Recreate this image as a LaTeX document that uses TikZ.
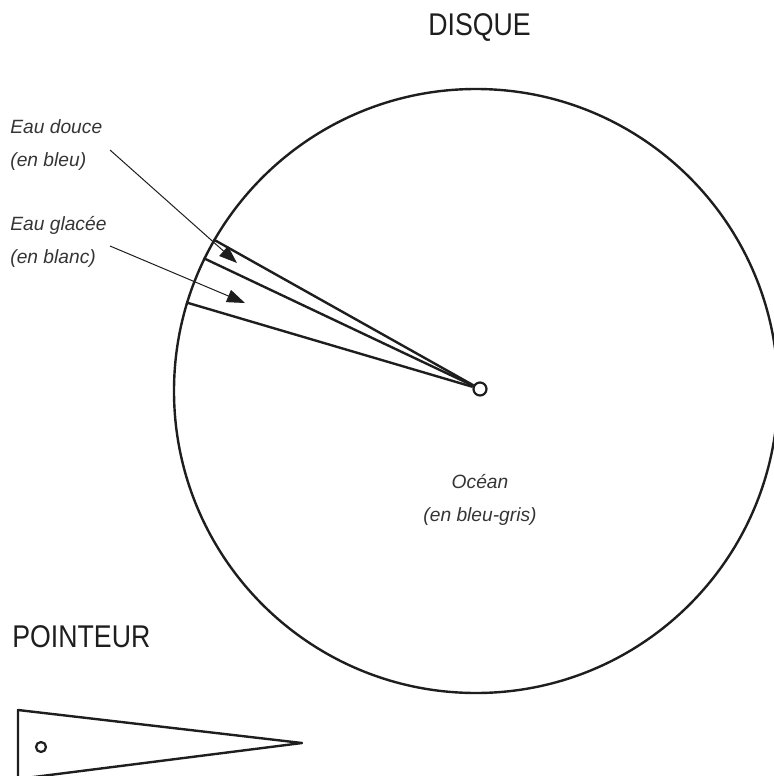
\documentclass[tikz,border=0pt]{standalone}
\usepackage{fontspec}
\setmainfont{Liberation Sans}
\newfontfamily\titrefont[FakeStretch=0.85]{Liberation Sans}
\usepackage{xcolor}
\definecolor{encre}{HTML}{1E1E1E}
\usetikzlibrary{arrows.meta, positioning}

\begin{document}
\begin{tikzpicture}[
    x=0.5pt, y=-0.5pt,
    trait/.style={draw=encre, line width=1.2pt},
    titre/.style={font=\titrefont\fontsize{15.7}{18}\selectfont, text=encre, inner sep=0pt},
    etiquette/.style={font=\fontsize{9.6}{16.5}\selectfont\itshape, text=encre!90, align=left, inner sep=0pt, anchor=west},
    fleche/.style={-{Triangle[length=9pt, width=6.5pt]}, line width=0.5pt, encre},
    trou/.style={circle, draw=encre, line width=1.1pt, inner sep=0pt, fill=white},
]
\useasboundingbox (0,0) rectangle (774,776);

% Disque
\node[titre] (titre-disque) at (479.5,28) {DISQUE};
\node[trait, circle, minimum size=302pt, inner sep=0pt] (disque) at (476,391) {};
\node[trou, minimum size=6.5pt] (axe) at (480,389) {};

% Secteurs
\draw[trait] (disque.150) -- (axe);
\draw[trait] (disque.154) -- (axe);
\draw[trait] (disque.163.7) -- (axe);

% Etiquettes
\node[etiquette] (douce) at (10,145.5) {Eau douce\\(en bleu)};
\node[etiquette] (glacee) at (10,242) {Eau glacée\\(en blanc)};
\node[etiquette, anchor=center, align=center] (ocean) at (480,499.5) {Océan\\(en bleu-gris)};

% Fleches
\coordinate (depart-douce) at (110,150);
\coordinate (pointe-douce) at (237,263);
\coordinate (depart-glacee) at (110,246);
\coordinate (pointe-glacee) at (245,303);
\draw[fleche] (depart-douce) -- (pointe-douce);
\draw[fleche] (depart-glacee) -- (pointe-glacee);

% Pointeur
\node[titre, anchor=west] (titre-pointeur) at (12,637) {POINTEUR};
\coordinate (haut) at (18,710);
\coordinate (pointe) at (302,743);
\coordinate (bas) at (18,779);
\draw[trait, line join=round] (haut) -- (pointe) -- (bas) -- cycle;
\node[trou, minimum size=5pt] (oeil) at (41,747) {};

\end{tikzpicture}
\end{document}
